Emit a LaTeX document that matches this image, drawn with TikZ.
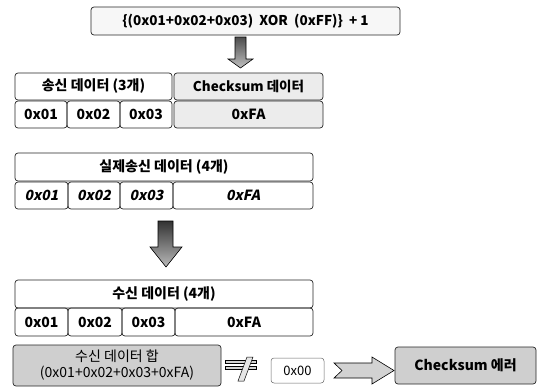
\documentclass[tikz,border=0pt]{standalone}
\usepackage{fontspec}
\setmainfont{Noto Sans CJK KR}
\newfontfamily\krsl{Noto Sans CJK KR}[FakeSlant=0.2]
\usetikzlibrary{calc}
\begin{document}
\begin{tikzpicture}[x=1pt,y=-1pt,
  box/.style={draw=black!85, line width=0.7pt, rounded corners=3pt, inner sep=0pt,
    font=\fontsize{14}{16}\selectfont\bfseries, text=black},
  lite/.style={box, fill=gray!15},
  dark/.style={box, fill=gray!38},
  slbox/.style={box, font=\fontsize{14}{16}\selectfont\krsl\bfseries},
  blockdown/.style={draw=black, line width=0.6pt, top color=black!80, bottom color=gray!55},
  blockright/.style={draw=black, line width=0.6pt, fill=gray!35},
]
\useasboundingbox (0,0) rectangle (537,389);

% top formula
\node[box, fill=gray!6, minimum width=309, minimum height=28,
  font=\fontsize{13.5}{16}\selectfont\bfseries] (formula) at (245.5,21)
  {\{(0x01+0x02+0x03)\ \ XOR\ \ (0xFF)\}\ \ + 1};

% arrow 1
\draw[blockdown, top color=black!70, bottom color=gray!50] (235,37) -- (246,37) -- (246,59) -- (253,59) -- (240.5,68) -- (228,59) -- (235,59) -- cycle;

% rows 1-2
\node[box, minimum width=157, minimum height=27] (send) at (93.5,86.5) {송신 데이터 (3개)};
\node[lite, minimum width=149, minimum height=27,
  font=\fontsize{13.5}{16}\selectfont\bfseries] (cshead) at (248.5,86.5) {Checksum 데이터};
\node[box, minimum width=52, minimum height=27] (s1) at (41,114.5) {0x01};
\node[box, minimum width=53, minimum height=27] (s2) at (93.5,114.5) {0x02};
\node[box, minimum width=52, minimum height=27] (s3) at (146,114.5) {0x03};
\node[lite, minimum width=149, minimum height=27] (s4) at (248.5,114.5) {0xFA};

% rows 3-4
\node[box, minimum width=298, minimum height=28] (real) at (164,167) {실제송신 데이터 (4개)};
\node[slbox, minimum width=53, minimum height=27] (r1) at (41.5,195.5) {0x01};
\node[slbox, minimum width=52, minimum height=27] (r2) at (94,195.5) {0x02};
\node[slbox, minimum width=53, minimum height=27] (r3) at (146.5,195.5) {0x03};
\node[slbox, minimum width=140, minimum height=27] (r4) at (243,195.5) {0xFA};

% arrow 2
\draw[blockdown] (158,221) -- (173,221) -- (173,247) -- (182,247) -- (166,267) -- (150,247) -- (158,247) -- cycle;

% rows 5-6
\node[box, minimum width=298, minimum height=28] (recv) at (164,294) {수신 데이터 (4개)};
\node[box, minimum width=53, minimum height=28] (v1) at (41.5,322) {0x01};
\node[box, minimum width=54, minimum height=28] (v2) at (95,322) {0x02};
\node[box, minimum width=53, minimum height=28] (v3) at (148.5,322) {0x03};
\node[box, minimum width=138, minimum height=28] (v4) at (244,322) {0xFA};

% bottom row
\node[dark, minimum width=208, minimum height=41, align=center,
  font=\fontsize{14}{16}\selectfont] (sum) at (117,365.5)
  {수신 데이터 합\\(0x01+0x02+0x03+0xFA)};
\node[box, draw=black!60, line width=0.5pt, minimum width=53, minimum height=25,
  font=\fontsize{13}{15}\selectfont] (zero) at (297.5,370.5) {0x00};
\node[dark, minimum width=141, minimum height=37, font=\fontsize{14}{16}\selectfont\bfseries]
  (err) at (465.5,365.5) {Checksum 에러};

% not-equal sign
\draw[blockright, line width=0.5pt] (225,360) rectangle (256,363.5);
\draw[blockright, line width=0.5pt] (225,366) rectangle (256,369.5);
\draw[line width=0.5pt, fill=gray!20] (247,357) -- (253,357) -- (244,381) -- (238,381) -- cycle;

% right arrow
\draw[blockright] (334,363) -- (372,363) -- (372,357) -- (394,370.5) -- (372,384) -- (372,378) -- (334,378) -- (342,370.5) -- cycle;
\end{tikzpicture}
\end{document}
